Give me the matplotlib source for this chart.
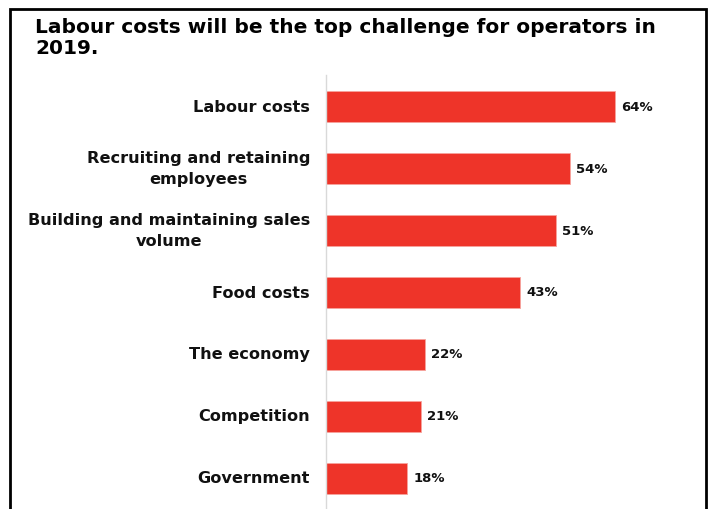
import matplotlib.pyplot as plt
from matplotlib.patches import Rectangle

# Survey results: top challenges for operators in 2019 (% of respondents)
challenges = [
    'Labour costs',
    'Recruiting and retaining\nemployees',
    'Building and maintaining sales\nvolume',
    'Food costs',
    'The economy',
    'Competition',
    'Government',
]
shares = [64, 54, 51, 43, 22, 21, 18]

bar_color = '#EE3429'

plt.rcParams['font.family'] = 'DejaVu Sans'

fig = plt.figure(figsize=(7.14, 5.10), dpi=100)

# Frame around the whole graphic (bottom edge runs off the canvas)
fig.patches.append(Rectangle((10 / 714, -0.02), 696 / 714, 1 - 9.5 / 510 + 0.02,
                             transform=fig.transFigure, fill=False,
                             edgecolor='black', linewidth=2))

fig.text(35 / 714, 1 - 18 / 510, 'Labour costs will be the top challenge for operators in\n2019.',
         fontsize=14.5, fontweight='bold', ha='left', va='top', linespacing=1.12)

ax = fig.add_axes([326 / 714, 0, 80 * 4.516 / 714, 1 - 76 / 510])
y = range(len(challenges))
ax.barh(y, shares, height=0.5, color=bar_color, edgecolor='#F7A39D', linewidth=0.6)

for yi, v in zip(y, shares):
    ax.text(v + 1.3, yi, f'{v}%', va='center', ha='left',
            fontsize=9.5, fontweight='bold', color='#111111')

ax.set_xlim(0, 80)
ax.set_ylim(6.5, -0.5)
ax.set_yticks(list(y))
ax.set_yticklabels(challenges, fontsize=11.6, fontweight='bold', color='#111111')
for lbl in ax.get_yticklabels():
    lbl.set_multialignment('center')
    lbl.set_linespacing(1.5)
    lbl.set_verticalalignment('center')
ax.tick_params(axis='y', length=0, pad=11.5)
ax.set_xticks([])
for side in ['top', 'right', 'bottom']:
    ax.spines[side].set_visible(False)
ax.spines['left'].set_color('#d9d9d9')
ax.spines['left'].set_linewidth(1)

fig.savefig('out.png', dpi=100)
